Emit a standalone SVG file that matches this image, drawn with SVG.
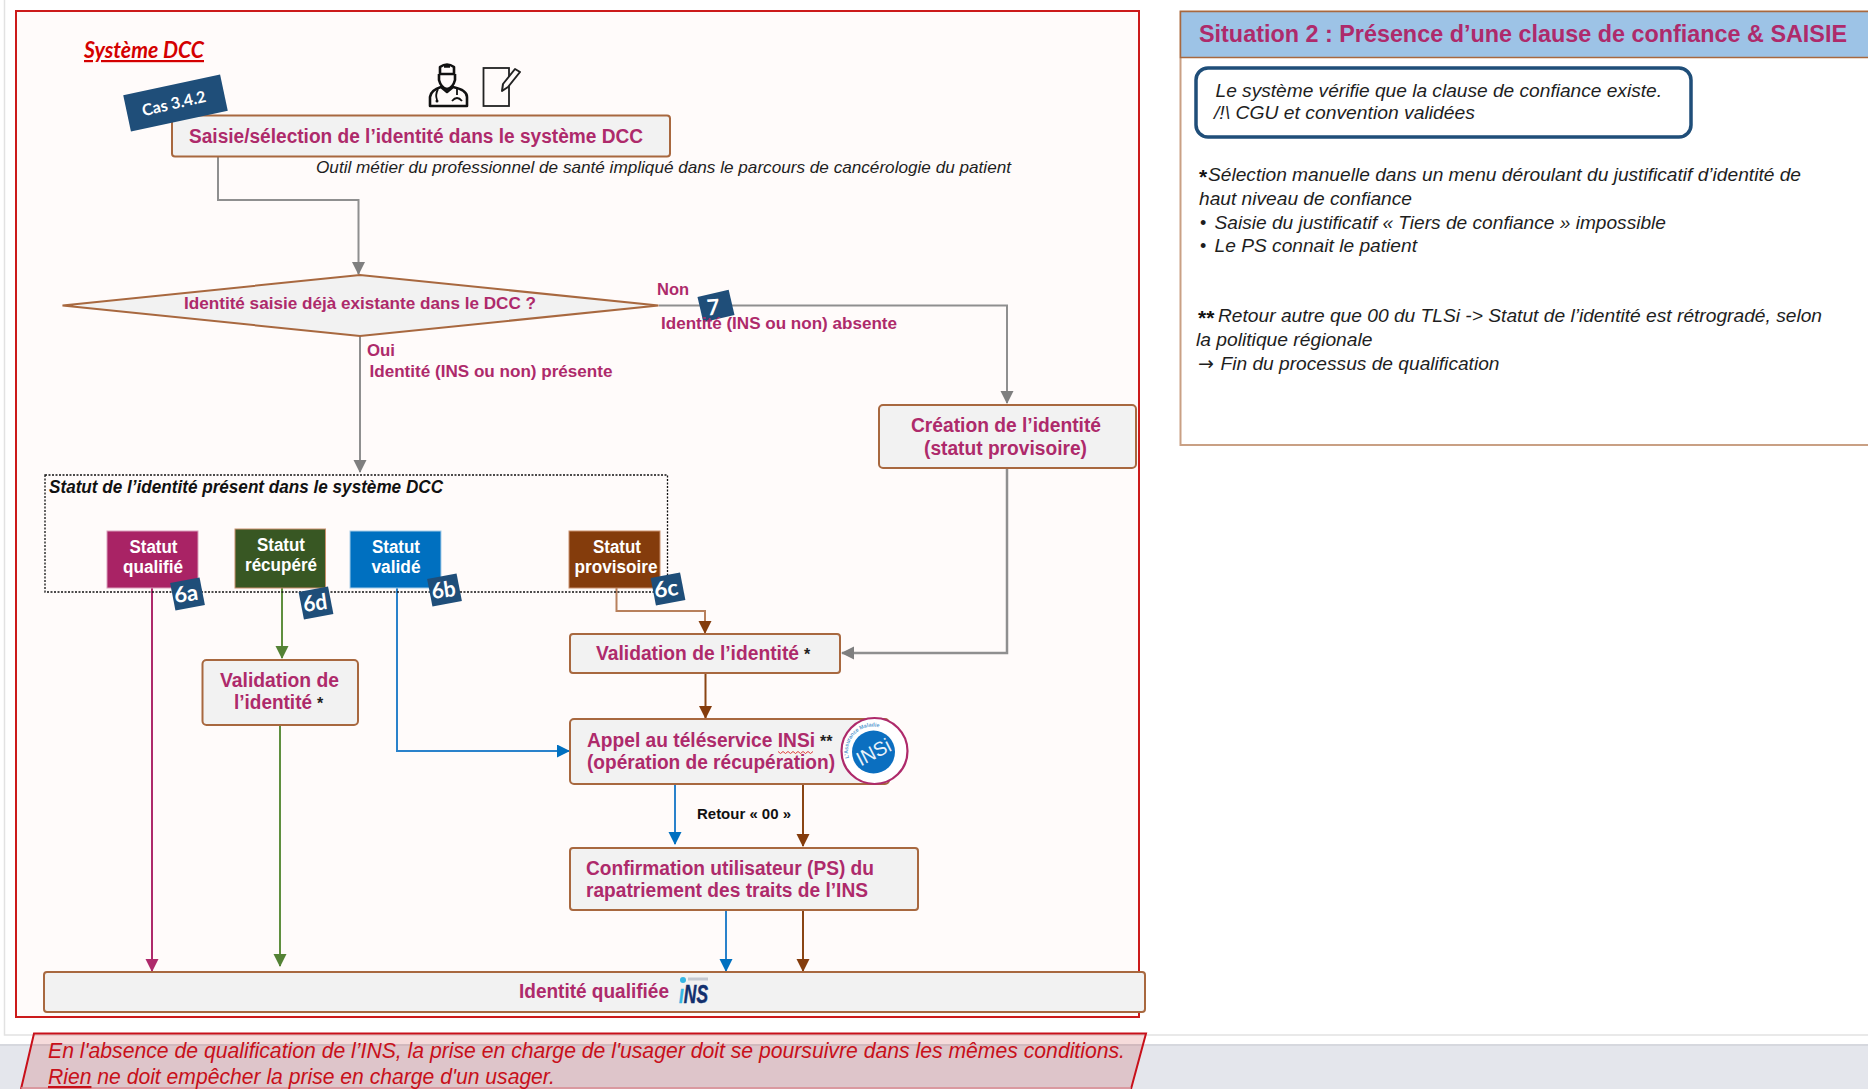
<svg xmlns="http://www.w3.org/2000/svg" width="1868" height="1089" viewBox="0 0 1868 1089">
<style>
text{font-family:"Liberation Sans",Arial,sans-serif}
.box{fill:#f2f2f2;stroke:#a8683f;stroke-width:2}
.t{font-weight:700;fill:#ae2a6b;font-size:20px}
.ts{font-weight:700;fill:#ae2a6b;font-size:17px}
.st{font-weight:700;fill:#fff;font-size:17.5px;text-anchor:middle}
.note{font-style:italic;fill:#1e1e1e;font-size:19px}
.nr{font-style:italic;fill:#c8101a;font-size:21.5px}
.bdg{fill:#1f4e79}
.bt{font-family:Lato,"Liberation Sans",sans-serif;font-weight:700;fill:#fff;font-size:22px;text-anchor:middle}
.c{fill:none;stroke-width:2}
.gy{stroke:#8f8f8f}.pk{stroke:#ae2a6b}.gn{stroke:#5f8f3e}.bl{stroke:#2a82cb}.br{stroke:#8a4514}
.gy2{stroke:#8f8f8f;stroke-width:2.5}
.ic{fill:none;stroke:#111;stroke-width:2.6;stroke-linejoin:round}
</style>
<defs>
<marker id="aGy" markerUnits="userSpaceOnUse" markerWidth="14" markerHeight="14" refX="12" refY="6.5" orient="auto"><path d="M0 0L13 6.5L0 13z" fill="#7f7f7f"/></marker>
<marker id="aPk" markerUnits="userSpaceOnUse" markerWidth="14" markerHeight="14" refX="12" refY="6.5" orient="auto"><path d="M0 0L13 6.5L0 13z" fill="#ae2a6b"/></marker>
<marker id="aGn" markerUnits="userSpaceOnUse" markerWidth="14" markerHeight="14" refX="12" refY="6.5" orient="auto"><path d="M0 0L13 6.5L0 13z" fill="#548235"/></marker>
<marker id="aBl" markerUnits="userSpaceOnUse" markerWidth="14" markerHeight="14" refX="12" refY="6.5" orient="auto"><path d="M0 0L13 6.5L0 13z" fill="#0070c0"/></marker>
<marker id="aBr" markerUnits="userSpaceOnUse" markerWidth="14" markerHeight="14" refX="12" refY="6.5" orient="auto"><path d="M0 0L13 6.5L0 13z" fill="#843c0c"/></marker>
<path id="insiArc" d="M849 758A24.500 24.500 0 0 1 891 735"/>
</defs>

<g id="background">
<rect width="1868" height="1089" fill="#fff"/>
<rect y="1046" width="1868" height="43" fill="#e4e6ec"/>
<rect y="1044" width="1868" height="2" fill="#d6d8de"/>
<path d="M4.5 0V1035H1868" fill="none" stroke="#e2e2e2" stroke-width="1.5"/>
<rect x="16" y="11" width="1123" height="1006" fill="#fffbfa" stroke="#cc1a1a" stroke-width="2"/>
</g>

<g id="title-systeme"><text x="84" y="58" font-size="22" font-weight="700" font-style="italic" fill="#d40000" text-decoration="underline" textLength="120" lengthAdjust="spacingAndGlyphs" style="font-family:Lato,'Liberation Sans',sans-serif">Système DCC</text></g>

<g id="connectors">
<path class="c gy" d="M218 157V200H358.500V274" marker-end="url(#aGy)"/>
<path class="c gy" d="M360 336V472" marker-end="url(#aGy)"/>
<path class="c gy" d="M659 305.500H1007V403" marker-end="url(#aGy)"/>
<path class="c gy2" d="M1007 469V653H842" marker-end="url(#aGy)"/>
<path class="c pk" d="M152 588V971" marker-end="url(#aPk)"/>
<path class="c gn" d="M282 588V658" marker-end="url(#aGn)"/>
<path class="c gn" d="M280 725V966" marker-end="url(#aGn)"/>
<path class="c bl" d="M397 588V751H569" marker-end="url(#aBl)"/>
<path class="c br" d="M616.500 588V611H705V633" marker-end="url(#aBr)" style="stroke:#b8805c"/>
<path class="c br" d="M705.500 674V718" marker-end="url(#aBr)"/>
<path class="c bl" d="M675 784V844" marker-end="url(#aBl)"/>
<path class="c br" d="M803 784V846" marker-end="url(#aBr)"/>
<path class="c bl" d="M726 911V971" marker-end="url(#aBl)"/>
<path class="c br" d="M803 911V971" marker-end="url(#aBr)"/>
</g>

<g id="icon-doctor" class="ic">
<path d="M440 74V67Q447 62 454 67V74Z" fill="#fffbfa"/>
<path d="M444 66H450" stroke-width="3.500"/>
<path d="M439 74V80Q441 88 447 89Q453 88 455 80V74"/>
<path d="M430 106V97Q431 90 441 87L447 92L453 87Q467 90 467 97V106Z"/>
<path d="M438 89Q435 95 437 100M457 89V95M452 101Q457 95 462 101" stroke-width="1.800"/>
<circle cx="437" cy="101" r="1.500" fill="#111" stroke="none"/>
</g>
<g id="icon-tablet">
<rect x="483.500" y="68" width="25.500" height="38" fill="none" stroke="#222" stroke-width="1.800"/>
<path d="M502 91L503 84L515 69L520 72L508 87Z" fill="#fffbfa" stroke="#222" stroke-width="2" stroke-linejoin="round"/>
</g>

<g id="node-saisie">
<rect class="box" x="172" y="115.500" width="498" height="41" rx="3"/>
<text class="t" x="189" y="143" textLength="454" lengthAdjust="spacingAndGlyphs">Saisie/sélection de l’identité dans le système DCC</text>
</g>
<g id="badge-cas"><rect class="bdg" x="126" y="84.500" width="99" height="37" transform="rotate(-12 175.500 103)"/>
<text class="bt" x="174" y="109" style="font-size:16px" transform="rotate(-13 174 104)">Cas 3.4.2</text></g>
<g id="label-outil"><text class="note" x="316" y="173" style="font-size:17px" textLength="695" lengthAdjust="spacingAndGlyphs">Outil métier du professionnel de santé impliqué dans le parcours de cancérologie du patient</text></g>

<g id="node-decision">
<polygon points="62.500,305.500 360,275 658.500,305.500 360,336" fill="#f2f2f2" stroke="#a8683f" stroke-width="2"/>
<text class="ts" x="184" y="309" textLength="352" lengthAdjust="spacingAndGlyphs">Identité saisie déjà existante dans le DCC ?</text>
</g>

<g id="badge-7"><rect class="bdg" x="700" y="293" width="32" height="26" transform="rotate(-13 716 306)"/>
<text class="bt" x="713" y="315" transform="rotate(-5 713 306)">7</text></g>

<g id="connector-labels">
<text class="ts" x="657" y="295" textLength="32" lengthAdjust="spacingAndGlyphs">Non</text>
<text class="ts" x="661" y="329" textLength="236" lengthAdjust="spacingAndGlyphs">Identité (INS ou non) absente</text>
<text class="ts" x="367" y="356" textLength="28" lengthAdjust="spacingAndGlyphs">Oui</text>
<text class="ts" x="369.500" y="377" textLength="243" lengthAdjust="spacingAndGlyphs">Identité (INS ou non) présente</text>
<text x="697" y="819" font-size="15" font-weight="700" fill="#111" textLength="94" lengthAdjust="spacingAndGlyphs">Retour « 00 »</text>
</g>

<g id="node-creation">
<rect class="box" x="879" y="405" width="257" height="63" rx="4"/>
<text class="t" x="911" y="432" textLength="190" lengthAdjust="spacingAndGlyphs">Création de l’identité</text>
<text class="t" x="924" y="455" textLength="163" lengthAdjust="spacingAndGlyphs">(statut provisoire)</text>
</g>

<g id="group-statut">
<rect x="45" y="475" width="622.500" height="117" fill="none" stroke="#111" stroke-width="1.300" stroke-dasharray="2 1.500"/>
<text x="49" y="493" font-size="17.500" font-weight="700" font-style="italic" fill="#111" textLength="394" lengthAdjust="spacingAndGlyphs">Statut de l’identité présent dans le système DCC</text>
</g>

<g id="node-statut-qualifie">
<rect x="107" y="531" width="91" height="57" fill="#a92365" stroke="#d9a0bb"/>
<text class="st" x="153.500" y="553" textLength="48" lengthAdjust="spacingAndGlyphs">Statut</text><text class="st" x="153" y="573" textLength="60" lengthAdjust="spacingAndGlyphs">qualifié</text>
<rect class="bdg" x="172.500" y="580" width="30" height="28" transform="rotate(-11 187.500 594)"/>
<text class="bt" x="186" y="601.500" transform="rotate(-8 186 594)" textLength="24" lengthAdjust="spacingAndGlyphs">6a</text>
</g>
<g id="node-statut-recupere">
<rect x="235" y="529" width="90.500" height="59" fill="#385723" stroke="#c98f6d"/>
<text class="st" x="281" y="551" textLength="48" lengthAdjust="spacingAndGlyphs">Statut</text><text class="st" x="281" y="571" textLength="72" lengthAdjust="spacingAndGlyphs">récupéré</text>
<rect class="bdg" x="301" y="589" width="30" height="28" transform="rotate(-11 316 603)"/>
<text class="bt" x="315" y="610.500" transform="rotate(-8 315 603)" textLength="24" lengthAdjust="spacingAndGlyphs">6d</text>
</g>
<g id="node-statut-valide">
<rect x="350" y="531" width="91" height="57" fill="#0070c0" stroke="#a8cde8"/>
<text class="st" x="396" y="553" textLength="48" lengthAdjust="spacingAndGlyphs">Statut</text><text class="st" x="396" y="573" textLength="49" lengthAdjust="spacingAndGlyphs">validé</text>
<rect class="bdg" x="429.500" y="576" width="30" height="28" transform="rotate(-11 444.500 590)"/>
<text class="bt" x="443.500" y="597.500" transform="rotate(-8 443.500 590)" textLength="24" lengthAdjust="spacingAndGlyphs">6b</text>
</g>
<g id="node-statut-provisoire">
<rect x="569" y="531" width="91" height="57" fill="#843c0c" stroke="#c98f6d"/>
<text class="st" x="617" y="553" textLength="48" lengthAdjust="spacingAndGlyphs">Statut</text><text class="st" x="616" y="573" textLength="83" lengthAdjust="spacingAndGlyphs">provisoire</text>
<rect class="bdg" x="653" y="575" width="30" height="28" transform="rotate(-11 668 589)"/>
<text class="bt" x="666" y="596.500" transform="rotate(-8 666 589)" textLength="24" lengthAdjust="spacingAndGlyphs">6c</text>
</g>

<g id="node-validation-gauche">
<rect class="box" x="202.500" y="660" width="155.500" height="65" rx="4"/>
<text class="t" x="220" y="687" textLength="119" lengthAdjust="spacingAndGlyphs">Validation de</text>
<text class="t" x="234" y="709"><tspan textLength="78" lengthAdjust="spacingAndGlyphs">l’identité</tspan><tspan dx="5" fill="#222" font-size="16">*</tspan></text>
</g>

<g id="node-validation">
<rect class="box" x="570" y="634" width="270" height="39" rx="3"/>
<text class="t" x="596" y="660"><tspan textLength="203" lengthAdjust="spacingAndGlyphs">Validation de l’identité</tspan><tspan dx="5" fill="#222" font-size="16">*</tspan></text>
</g>

<g id="node-appel">
<rect class="box" x="570" y="719" width="319" height="65" rx="4"/>
<text class="t" x="587" y="747"><tspan textLength="228" lengthAdjust="spacingAndGlyphs">Appel au téléservice INSi</tspan><tspan dx="5" fill="#222" font-size="16">**</tspan></text>
<text class="t" x="587" y="769" textLength="248" lengthAdjust="spacingAndGlyphs">(opération de récupération)</text>
<path d="M778 751.500l2.500 2 2.500-2 2.500 2 2.500-2 2.500 2 2.500-2 2.500 2 2.500-2 2.500 2 2.500-2 2.500 2 2.500-2 2.500 2 2.500-2" fill="none" stroke="#e0403a" stroke-width="1"/>
<g id="logo-insi">
<circle cx="874.500" cy="751" r="33" fill="#fff" stroke="#ae2a6b" stroke-width="2.200"/>
<circle cx="873.500" cy="752" r="21.500" fill="#0b6fc0"/>
<text font-size="5.500" fill="#5a9bd0" font-weight="700"><textPath href="#insiArc" textLength="52" lengthAdjust="spacingAndGlyphs">L’Assurance Maladie</textPath></text>
<text x="873.500" y="759" font-size="20" fill="#e8f2fa" text-anchor="middle" textLength="36" lengthAdjust="spacingAndGlyphs" transform="rotate(-27 873.500 752)">INSi</text>
</g>
</g>

<g id="node-confirmation">
<rect class="box" x="570" y="848" width="348" height="62" rx="3"/>
<text class="t" x="586" y="875" textLength="288" lengthAdjust="spacingAndGlyphs">Confirmation utilisateur (PS) du</text>
<text class="t" x="586" y="897" textLength="282" lengthAdjust="spacingAndGlyphs">rapatriement des traits de l’INS</text>
</g>

<g id="node-qualifiee">
<rect class="box" x="44" y="972" width="1101" height="40" rx="3"/>
<text class="t" x="519" y="998" textLength="150" lengthAdjust="spacingAndGlyphs">Identité qualifiée</text>
<g id="logo-ins">
<rect x="688" y="977.500" width="20" height="3" fill="#c4c8d0"/>
<circle cx="683" cy="980" r="3" fill="#35b6e4"/>
<text x="679" y="1003" font-size="25" font-weight="700" font-style="italic" fill="#12306e" stroke="#12306e" stroke-width=".5" textLength="29" lengthAdjust="spacingAndGlyphs"><tspan fill="#35b6e4" stroke="#35b6e4">ı</tspan>NS</text>
</g>
</g>

<g id="note-rouge">
<polygon points="34,1033.500 1146,1033.500 1131,1089 21,1089" fill="#c00000" fill-opacity=".14"/>
<path d="M21 1089L34 1033.500H1146L1131 1089" fill="none" stroke="#c8101a" stroke-width="2"/>
<path d="M21 1088H1131" fill="none" stroke="#d98a92" stroke-width="1.500"/>
<text class="nr" x="48" y="1058" textLength="1077" lengthAdjust="spacingAndGlyphs">En l'absence de qualification de l’INS, la prise en charge de l'usager doit se poursuivre dans les mêmes conditions.</text>
<text class="nr" x="48" y="1084" textLength="507" lengthAdjust="spacingAndGlyphs"><tspan text-decoration="underline">Rien</tspan> ne doit empêcher la prise en charge d'un usager.</text>
</g>

<g id="panel-situation">
<rect x="1180.500" y="11.500" width="700" height="433.500" fill="#fff" stroke="#c9a084" stroke-width="2"/>
<rect x="1180.500" y="11.500" width="700" height="46" fill="#9dc3e6" stroke="#a8683f" stroke-width="1.500"/>
<text x="1199" y="42" font-size="24" font-weight="700" fill="#ae2a6b" textLength="648" lengthAdjust="spacingAndGlyphs">Situation 2 : Présence d’une clause de confiance &amp; SAISIE</text>
<rect x="1196" y="68" width="495" height="69" rx="12" fill="#fff" stroke="#1f4e79" stroke-width="3.500"/>
<text class="note" x="1215.500" y="97" textLength="446.500" lengthAdjust="spacingAndGlyphs">Le système vérifie que la clause de confiance existe.</text>
<text class="note" x="1214" y="119" textLength="261" lengthAdjust="spacingAndGlyphs">/!\ CGU et convention validées</text>
<text x="1199" y="184" font-size="21" font-weight="700" fill="#111">*</text>
<text class="note" x="1208" y="181" textLength="593" lengthAdjust="spacingAndGlyphs">Sélection manuelle dans un menu déroulant du justificatif d’identité de</text>
<text class="note" x="1199" y="205" textLength="213" lengthAdjust="spacingAndGlyphs">haut niveau de confiance</text>
<text x="1200" y="229" font-size="18" fill="#1e1e1e">•</text>
<text class="note" x="1214.500" y="229" textLength="451.500" lengthAdjust="spacingAndGlyphs">Saisie du justificatif « Tiers de confiance » impossible</text>
<text x="1200" y="252" font-size="18" fill="#1e1e1e">•</text>
<text class="note" x="1214.500" y="252" textLength="202.500" lengthAdjust="spacingAndGlyphs">Le PS connait le patient</text>
<text x="1198" y="325" font-size="21" font-weight="700" fill="#111">**</text>
<text class="note" x="1218" y="322" textLength="604" lengthAdjust="spacingAndGlyphs">Retour autre que 00 du TLSi -&gt; Statut de l’identité est rétrogradé, selon</text>
<text class="note" x="1196" y="346" textLength="176.500" lengthAdjust="spacingAndGlyphs">la politique régionale</text>
<text x="1198" y="370" font-size="19" fill="#1e1e1e" style="font-family:'DejaVu Sans',sans-serif">→</text>
<text class="note" x="1220.500" y="370" textLength="279" lengthAdjust="spacingAndGlyphs">Fin du processus de qualification</text>
</g>
</svg>
